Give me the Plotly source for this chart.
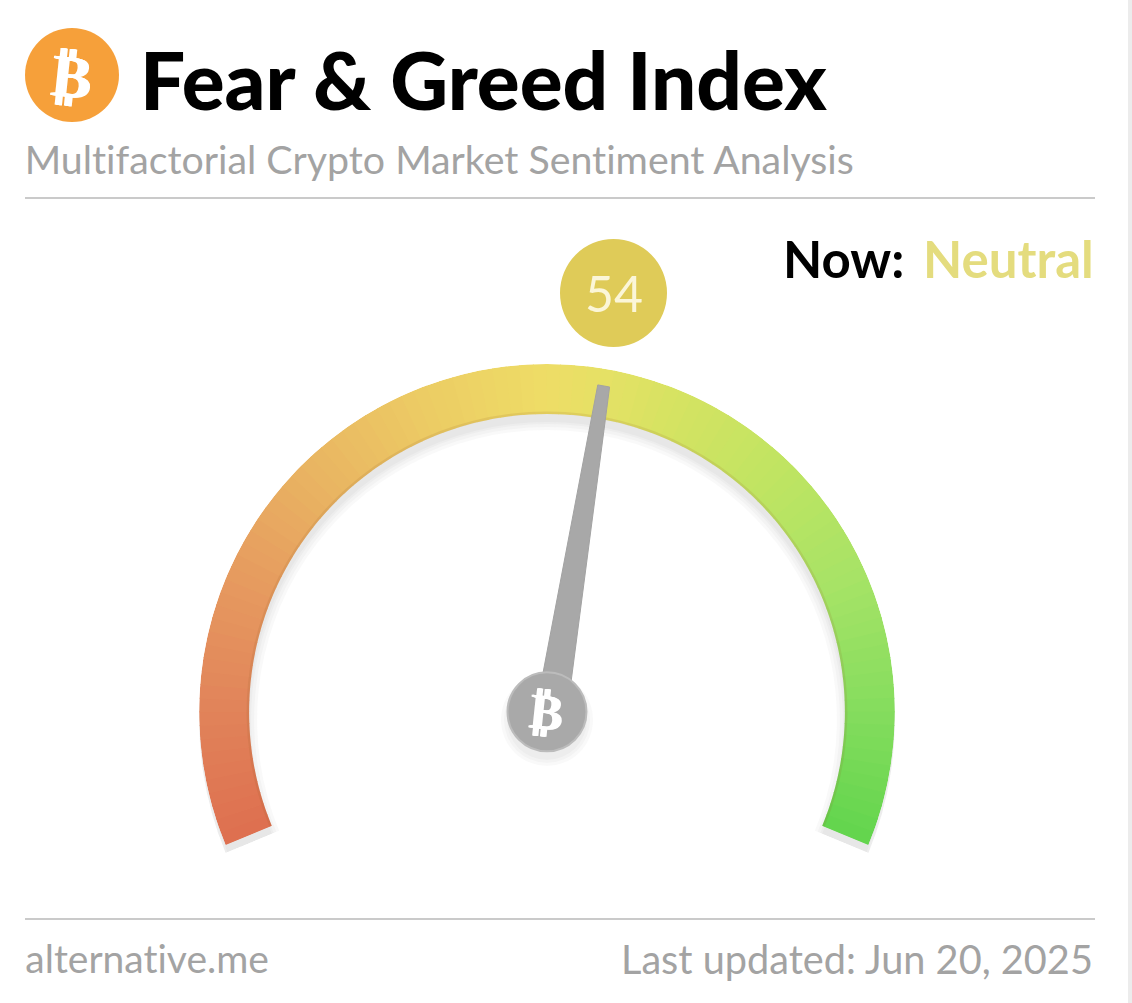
import numpy as np
import plotly.graph_objects as go

W, H = 1132, 1003

# Gauge
index_value = 54
gauge_ticks = np.arange(0, 100)
gauge_stops = [0, 10, 20, 30, 40, 50, 55, 60, 70, 80, 90, 100]
gauge_colors = ["#de7050", "#e1845a", "#e69a5f", "#e9b462", "#eccb64", "#eedd66",
                "#e4e165", "#d6e362", "#bfe462", "#a6e366", "#86dd5e", "#64d54e"]
needle_radii = [40, 331, 331, 40]
needle_sides = [-10, -1, 11, 19]

# Text
title_text = "Fear & Greed Index"
subtitle_text = "Multifactorial Crypto Market Sentiment Analysis"
now_label = "Now:"
now_state = "Neutral"
site_text = "alternative.me"
updated_text = "Last updated: Jun 20, 2025"


def px(x):
    return x / W


def py(y):
    return 1 - y / H


def to_theta(v):
    return v * 2.25


colorscale = [[s / 100, c] for s, c in zip(gauge_stops, gauge_colors)]
polar_style = dict(
    sector=[-22.5, 202.5],
    bgcolor="rgba(0,0,0,0)",
    radialaxis=dict(range=[0, 348], visible=False),
    angularaxis=dict(visible=False, rotation=202.5, direction="clockwise"),
)

fig = go.Figure()

# soft shadow, on a polar shifted down and drawn underneath
for base, thick in [(290, 64), (293, 58), (296, 52), (298, 48)]:
    fig.add_trace(go.Barpolar(
        subplot="polar",
        theta=[to_theta(50)],
        r=[thick],
        base=base,
        width=to_theta(100),
        marker=dict(color="rgba(110,110,110,0.04)", line_width=0),
    ))
for size in [92, 86, 80]:
    fig.add_trace(go.Scatterpolar(
        subplot="polar",
        r=[0],
        theta=[0],
        mode="markers",
        marker=dict(size=size, color="rgba(110,110,110,0.04)"),
    ))

fig.add_trace(go.Barpolar(
    subplot="polar2",
    theta=to_theta(gauge_ticks + 0.5),
    r=[50] * 100,
    base=298,
    width=2.4,
    marker=dict(color=gauge_ticks, colorscale=colorscale, cmin=0, cmax=99, line_width=0),
))
# darker inner rim
fig.add_trace(go.Barpolar(
    subplot="polar2",
    theta=[to_theta(50)],
    r=[2.5],
    base=298,
    width=to_theta(100),
    marker=dict(color="rgba(150,90,40,0.13)", line_width=0),
))

# needle
needle_theta = []
for rad, side in zip(needle_radii, needle_sides):
    needle_theta.append(to_theta(index_value) + np.degrees(np.arcsin(side / rad)))
fig.add_trace(go.Scatterpolar(
    subplot="polar2",
    r=needle_radii + needle_radii[:1],
    theta=needle_theta + needle_theta[:1],
    mode="lines",
    fill="toself",
    fillcolor="#a8a8a8",
    line=dict(color="#a2a2a2", width=1),
))
fig.add_trace(go.Scatterpolar(
    subplot="polar2",
    r=[0],
    theta=[0],
    mode="markers",
    marker=dict(size=79, color="#a9a9a9", line=dict(color="#bcbcbc", width=2)),
))

fig.update_layout(
    width=W,
    height=H,
    margin=dict(l=0, r=0, t=0, b=0),
    paper_bgcolor="white",
    showlegend=False,
    polar=dict(domain=dict(x=[px(199), px(895)], y=[py(853), py(372)]), **polar_style),
    polar2=dict(domain=dict(x=[px(199), px(895)], y=[py(845), py(364)]), **polar_style),
    shapes=[
        dict(type="line", xref="paper", yref="paper", x0=px(25), x1=px(1095), y0=py(198), y1=py(198),
             line=dict(color="#b9b9b9", width=1.5)),
        dict(type="line", xref="paper", yref="paper", x0=px(25), x1=px(1095), y0=py(919), y1=py(919),
             line=dict(color="#b9b9b9", width=1.5)),
        dict(type="circle", xref="paper", yref="paper", x0=px(25), x1=px(119), y0=py(122), y1=py(28),
             fillcolor="#f6a03a", line_width=0),
        dict(type="circle", xref="paper", yref="paper", x0=px(560), x1=px(667), y0=py(347), y1=py(239),
             fillcolor="#dfcb58", line_width=0),
        dict(type="rect", xref="paper", yref="paper", x0=px(1128), x1=1, y0=0, y1=1,
             fillcolor="#ececec", line_width=0),
    ],
)


def label(text, x, y, size, color, anchor="left", family="Lato", angle=0, weight=400, shadow="none"):
    fig.add_annotation(
        text=text, xref="paper", yref="paper", x=px(x), y=py(y),
        xanchor=anchor, yanchor="middle", showarrow=False, textangle=angle,
        font=dict(family=family, size=size, color=color, weight=weight, shadow=shadow),
    )


thick_glyph = "0.8px 0 0 #fff, -0.8px 0 0 #fff"
label(title_text, 138, 79, 80, "#000000", weight=900)
label(subtitle_text, 22, 158, 39.3, "#a3a3a3")
label(now_label, 906, 258, 51, "#000000", anchor="right", weight=700)
label(now_state, 1096, 258, 51, "#e4dc7e", anchor="right", weight=700)
label(str(index_value), 614, 293, 50, "#fbf6d8", anchor="center")
label(site_text, 23, 958, 39, "#a3a3a3")
label(updated_text, 1095, 958, 39.7, "#a3a3a3", anchor="right")
label("₿", 72, 76, 60, "#ffffff", anchor="center", family="DejaVu Sans", angle=6, weight=700, shadow=thick_glyph)
label("₿", 546, 712, 50, "#ffffff", anchor="center", family="DejaVu Sans", angle=6, weight=700, shadow=thick_glyph)

# page margin off, no ti/fi ligatures as in the reference
page_fix = """
document.body.style.margin = '0';
var s = document.createElement('style');
s.textContent = 'svg text {font-variant-ligatures: none !important;}';
document.head.appendChild(s);
Plotly.redraw('{plot_id}');
"""
fig.write_html("out.html", post_script=page_fix, config=dict(displayModeBar=False))
